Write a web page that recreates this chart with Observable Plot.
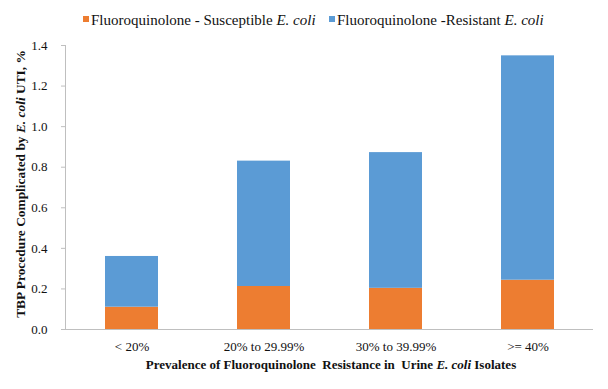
<!DOCTYPE html>
<html><head><meta charset="utf-8">
<script src="https://cdn.jsdelivr.net/npm/d3@7"></script>
<script src="https://cdn.jsdelivr.net/npm/@observablehq/plot@0.6"></script>
<style>
body{margin:0;background:#fff;}
#wrap{position:relative;width:608px;height:389px;}
svg, svg text{font-family:"Liberation Serif","DejaVu Serif","Times New Roman",serif !important;}
</style></head><body><div id="wrap"></div>
<script>
const categories = ["< 20%", "20% to 29.99%", "30% to 39.99%", ">= 40%"];
const seriesNames = ["Fluoroquinolone - Susceptible", "Fluoroquinolone -Resistant"];
const seriesColors = ["#ED7D31", "#5B9BD5"];
const susceptible = [0.11, 0.212, 0.203, 0.243];
const resistant = [0.25, 0.618, 0.669, 1.106];
const yTicks = [0, 0.2, 0.4, 0.6, 0.8, 1.0, 1.2, 1.4];

const rows = categories.flatMap((c, i) => [
  {cat: c, series: seriesNames[0], value: susceptible[i]},
  {cat: c, series: seriesNames[1], value: resistant[i]}
]);

const chart = Plot.plot({
  width: 608, height: 389,
  marginLeft: 65, marginRight: 15, marginTop: 45, marginBottom: 60,
  style: {fontSize: "13px", color: "#111", background: "#fff"},
  x: {domain: categories, paddingInner: 0.6, paddingOuter: 0.3, label: null},
  y: {domain: [0, 1.4], label: null},
  color: {domain: seriesNames, range: seriesColors},
  marks: [
    Plot.barY(rows, {x: "cat", y: "value", fill: "series", order: seriesNames}),
    Plot.ruleY([0], {stroke: "#bfbfbf"}),
    Plot.frame({anchor: "left", stroke: "#bfbfbf"}),
    Plot.axisY({ticks: yTicks, tickFormat: ".1f", tickSize: 4, tickPadding: 14, stroke: "#bfbfbf", fill: "#111", label: null}),
    Plot.axisX({tickSize: 0, tickPadding: 12, fill: "#111", label: null})
  ]
});
document.getElementById("wrap").appendChild(chart);

const svg = d3.select(chart);
const color = chart.scale("color");
// y axis title
const yt = svg.append("text")
  .attr("transform", "translate(25,184) rotate(-90)")
  .attr("text-anchor", "middle")
  .attr("font-weight", "bold").attr("font-size", "13.4px").attr("fill", "#111");
yt.append("tspan").text("TBP Procedure Complicated by ");
yt.append("tspan").attr("font-style", "italic").text("E. coli");
yt.append("tspan").text(" UTI, %");
// x axis title
const xt = svg.append("text")
  .attr("x", 331).attr("y", 369)
  .attr("text-anchor", "middle")
  .attr("font-weight", "bold").attr("font-size", "13px").attr("fill", "#111");
xt.append("tspan").text("Prevalence of Fluoroquinolone  Resistance in  Urine ");
xt.append("tspan").attr("font-style", "italic").text("E. coli");
xt.append("tspan").text(" Isolates");
// legend
const legendX = [83, 329];
seriesNames.forEach((s, i) => {
  const g = svg.append("g");
  g.append("rect").attr("x", legendX[i]).attr("y", 16).attr("width", 6).attr("height", 6).attr("fill", color.apply(s));
  const t = g.append("text").attr("x", legendX[i] + 8).attr("y", 25)
    .attr("text-anchor", "start").attr("font-size", "15px").attr("fill", "#111");
  t.append("tspan").text(s + " ");
  t.append("tspan").attr("font-style", "italic").text("E. coli");
});
</script>
</body></html>
